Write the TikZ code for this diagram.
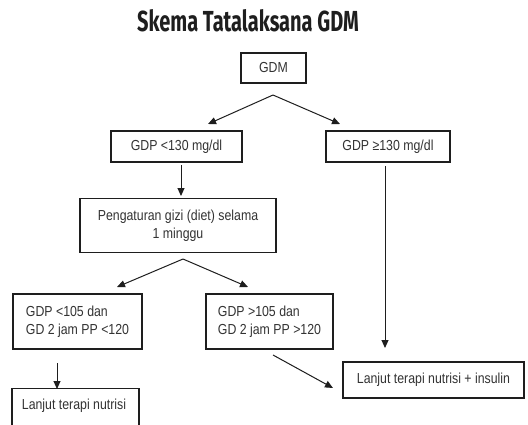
\documentclass[tikz,border=0pt]{standalone}
\usepackage{fontspec}
\setmainfont{Liberation Sans}[FakeStretch=0.85]
\newfontfamily\titlefont{Fira Sans}[FakeStretch=0.69,UprightFont=* Bold]
\usetikzlibrary{arrows.meta}
\definecolor{txt}{HTML}{333333}
\definecolor{ln}{HTML}{1E1E1E}
\tikzset{
  box/.style={draw=ln, line width=1.3pt, inner sep=0pt, text=txt,
    font=\fontsize{14.5}{18}\selectfont, align=center},
  arr/.style={draw=ln, line width=1pt, -{Triangle[length=8pt,width=7pt]}},
}
\begin{document}
\begin{tikzpicture}[x=1pt,y=-1pt]
\useasboundingbox[fill=white] (0,0) rectangle (528,424);
\node[text=ln, font=\titlefont\fontsize{29}{32}\selectfont] (title) at (248,21) {Skema Tatalaksana GDM};
\node[box, minimum width=65pt, minimum height=30pt] (gdm) at (273.5,68) {GDM};
\node[box, minimum width=131pt, minimum height=31pt] (lt130) at (176.5,146.5) {GDP <130 mg/dl};
\node[box, minimum width=124pt, minimum height=31pt] (ge130) at (388,146.5) {GDP ≥130 mg/dl};
\node[box, minimum width=196pt, minimum height=54pt] (diet) at (178,225.5) {Pengaturan gizi (diet) selama\\1 minggu};
\node[box, align=left, minimum width=129pt, minimum height=55pt] (lt105) at (77.5,321.5) {GDP <105 dan\\GD 2 jam PP <120};
\node[box, align=left, minimum width=127pt, minimum height=55pt] (gt105) at (269.5,321.5) {GDP >105 dan\\GD 2 jam PP >120};
\node[box, minimum width=127pt, minimum height=38pt, anchor=north] (nut) at (75.5,388) {};
\node[txt, font=\fontsize{14.5}{18}\selectfont] (nutt) at (74,406) {Lanjut terapi nutrisi};
\node[box, minimum width=181pt, minimum height=36pt] (ins) at (433.5,380) {Lanjut terapi nutrisi + insulin};
% connector points
\coordinate (a1) at (273,95);
\coordinate (t1) at (208,124);
\coordinate (t2) at (340,124);
\coordinate (s3) at (181,165);
\coordinate (t3) at (181,196);
\coordinate (s4) at (385,166);
\coordinate (t4) at (385,348);
\coordinate (a2) at (183,259);
\coordinate (t5) at (117,287);
\coordinate (t6) at (248,287);
\coordinate (s7) at (57,363);
\coordinate (t7) at (57,389);
\coordinate (s8) at (273,355);
\coordinate (t8) at (333,388);
\draw[arr] (a1) -- (t1);
\draw[arr] (a1) -- (t2);
\draw[arr] (s3) -- (t3);
\draw[arr] (s4) -- (t4);
\draw[arr] (a2) -- (t5);
\draw[arr] (a2) -- (t6);
\draw[arr] (s7) -- (t7);
\draw[arr] (s8) -- (t8);
\end{tikzpicture}
\end{document}
